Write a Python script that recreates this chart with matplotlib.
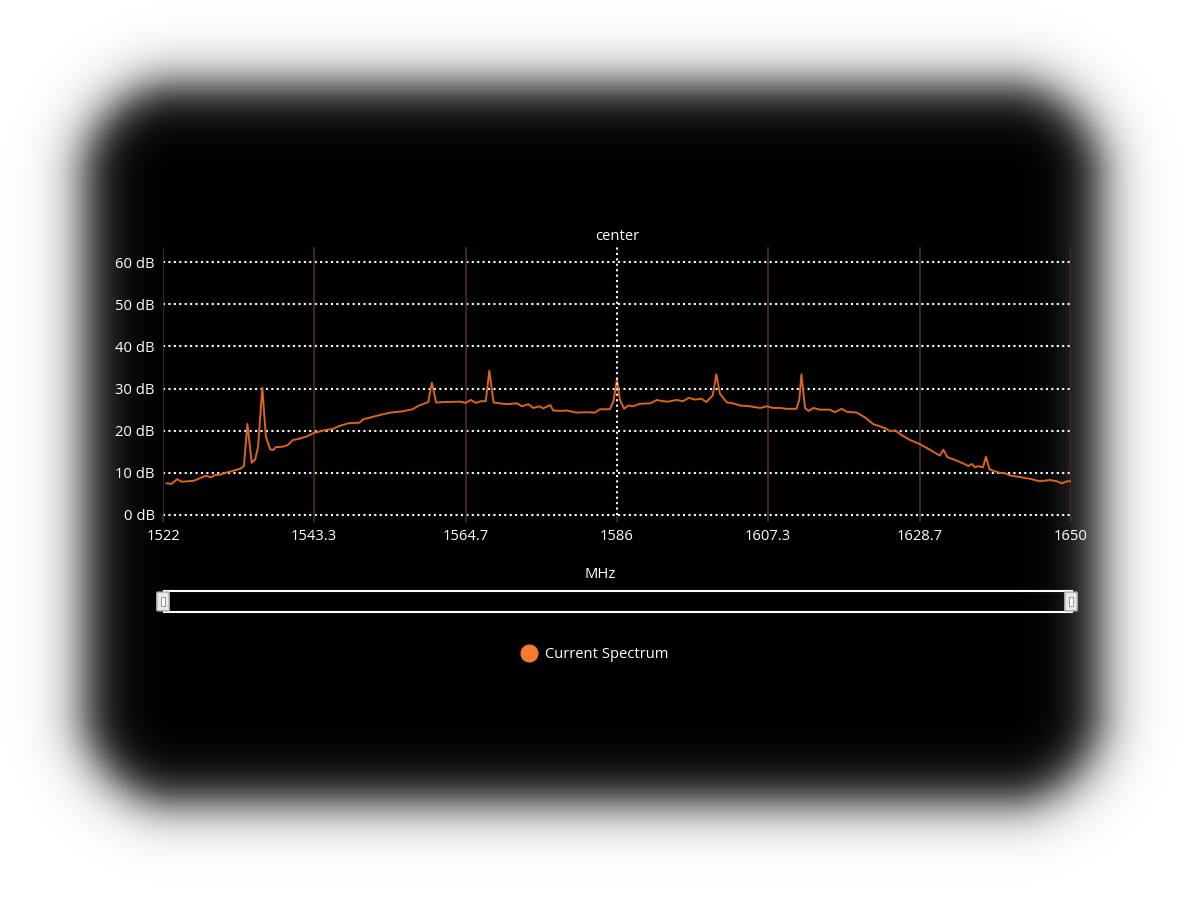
import numpy as np
import matplotlib
matplotlib.use("Agg")
import matplotlib.pyplot as plt
from matplotlib.lines import Line2D
from matplotlib.patches import Rectangle, FancyBboxPatch

# spectrum readings (MHz, dB)
freq_mhz = [1522.5, 1523.2, 1524.0, 1524.6, 1526.3, 1527.7, 1528.2, 1528.7, 1529.4, 1530.1,
            1531.0, 1531.9, 1532.9, 1533.4, 1533.9, 1534.5, 1535.0, 1535.4, 1536.0, 1536.5,
            1537.1, 1537.5, 1537.9, 1538.9, 1539.6, 1540.3, 1541.0, 1542.2, 1543.3, 1545.0,
            1545.9, 1546.8, 1548.2, 1549.7, 1550.2, 1551.6, 1552.5, 1554.0, 1555.8, 1557.2,
            1558.0, 1559.4, 1559.9, 1560.5, 1561.6, 1563.9, 1564.7, 1565.4, 1566.1, 1566.8,
            1567.5, 1568.0, 1568.6, 1569.5, 1570.4, 1571.9, 1572.6, 1573.5, 1574.2, 1575.1,
            1575.6, 1576.6, 1577.0, 1578.0, 1578.9, 1580.3, 1581.7, 1582.9, 1583.6, 1585.0,
            1585.5, 1586.0, 1586.4, 1587.0, 1587.6, 1588.3, 1589.2, 1590.7, 1591.6, 1592.5,
            1593.2, 1594.4, 1595.3, 1596.1, 1597.0, 1597.9, 1598.6, 1599.5, 1600.0, 1600.5,
            1601.5, 1602.4, 1603.3, 1604.7, 1606.2, 1607.1, 1608.0, 1609.0, 1609.9, 1611.3,
            1611.7, 1612.0, 1612.5, 1613.0, 1613.7, 1614.6, 1616.0, 1616.7, 1617.7, 1618.4,
            1619.8, 1621.0, 1622.1, 1623.8, 1624.5, 1625.2, 1626.1, 1627.3, 1628.7, 1630.1,
            1631.5, 1632.0, 1632.6, 1633.9, 1635.1, 1635.5, 1636.0, 1636.5, 1636.9, 1637.6,
            1638.0, 1638.5, 1639.0, 1640.0, 1640.7, 1641.4, 1642.8, 1644.2, 1645.6, 1647.0,
            1648.0, 1648.7, 1649.4, 1650.0]
level_db = [7.5, 7.4, 8.5, 7.9, 8.1, 9.1, 9.3, 8.9, 9.5, 9.6,
            10.1, 10.5, 11.0, 11.6, 21.6, 12.4, 13.2, 16.2, 30.2, 18.6,
            15.6, 15.4, 16.1, 16.2, 16.6, 17.8, 18.0, 18.6, 19.5, 20.2,
            20.4, 21.1, 21.8, 21.9, 22.7, 23.3, 23.7, 24.3, 24.6, 25.1,
            25.9, 26.8, 31.4, 26.7, 26.8, 26.9, 26.6, 27.3, 26.6, 27.0,
            27.0, 34.2, 26.7, 26.5, 26.3, 26.5, 25.8, 26.3, 25.4, 25.8,
            25.3, 26.1, 24.8, 24.7, 24.8, 24.3, 24.4, 24.3, 25.1, 25.1,
            27.0, 32.2, 27.4, 25.2, 26.0, 25.8, 26.4, 26.5, 27.3, 27.0,
            26.9, 27.3, 27.0, 27.8, 27.4, 27.6, 26.8, 28.4, 33.4, 28.8,
            26.7, 26.5, 26.0, 25.8, 25.4, 25.8, 25.4, 25.4, 25.2, 25.2,
            27.4, 33.4, 25.4, 24.7, 25.4, 25.0, 25.0, 24.4, 25.2, 24.5,
            24.3, 23.1, 21.6, 20.6, 19.9, 20.1, 19.0, 17.8, 16.8, 15.5,
            14.1, 15.5, 13.7, 12.9, 12.0, 11.6, 12.1, 11.3, 11.6, 11.3,
            13.8, 10.9, 10.5, 10.0, 9.9, 9.4, 9.0, 8.6, 8.0, 8.3,
            8.0, 7.5, 8.0, 8.0]

x_ticks = [1522, 1543.3, 1564.7, 1586, 1607.3, 1628.7, 1650]
x_tick_labels = ["1522", "1543.3", "1564.7", "1586", "1607.3", "1628.7", "1650"]
y_ticks = [0, 10, 20, 30, 40, 50, 60]
center_mhz = 1586

plt.rcParams['font.family'] = ['Open Sans', 'DejaVu Sans']
FS = 10.6

W, H = 1200, 900
fig = plt.figure(figsize=(12, 9), dpi=100)
fig.patch.set_facecolor("white")

# blurred black card behind the chart
bg = fig.add_axes([0, 0, 1, 1], zorder=-10)
yy, xx = np.mgrid[0:H, 0:W] + 0.5
x0, x1, y0, y1, r = 85, 1100, 85, 802, 95
qx = np.abs(xx - (x0 + x1) / 2) - ((x1 - x0) / 2 - r)
qy = np.abs(yy - (y0 + y1) / 2) - ((y1 - y0) / 2 - r)
dist = np.hypot(np.maximum(qx, 0), np.maximum(qy, 0)) + np.minimum(np.maximum(qx, qy), 0) - r
shade = 0.5 * (1 + np.tanh(dist / 30))
bg.imshow(shade, cmap="gray", vmin=0, vmax=1, extent=[0, W, H, 0], aspect="auto")
bg.set_axis_off()

# main plot
ax = fig.add_axes([163 / W, 1 - 515 / H, (1071 - 163) / W, (515 - 247) / H])
ax.set_facecolor("none")
ax.set_xlim(1522, 1650)
ax.set_ylim(0, 63.6)

for v in y_ticks:
    ax.axhline(v, color="white", lw=1.5, ls=(0, (1, 1.6)), zorder=1, clip_on=False)
for v in x_ticks:
    if v != center_mhz:
        ax.axvline(v, color="#4a3020", lw=1.2, zorder=1)
ax.axvline(center_mhz, color="white", lw=1.5, ls=(0, (1, 1.6)), zorder=3)

ax.plot(freq_mhz, level_db, color="#d9651f", lw=1.4, zorder=2)

ax.set_xticks(x_ticks)
ax.set_xticklabels(x_tick_labels)
ax.set_yticks(y_ticks)
ax.set_yticklabels([f"{v} dB" for v in y_ticks])
ax.tick_params(axis="x", colors="white", labelsize=FS, length=5, width=1.2, pad=5)
ax.tick_params(axis="x", color="#4a3020")
ax.tick_params(axis="y", colors="white", labelsize=FS, length=0, pad=6)
for s in ax.spines.values():
    s.set_visible(False)

ax.text(center_mhz, 1 + 11 / 268, "center", transform=ax.get_xaxis_transform(),
        ha="center", va="center", color="white", fontsize=FS)
fig.text(600 / W, 1 - 574 / H, "MHz", ha="center", va="center", color="white", fontsize=FS)

# range slider outline and handles
fig.patches.append(Rectangle((164 / W, 1 - 612 / H), (1072 - 164) / W, 21 / H,
                             transform=fig.transFigure, fill=False, ec="white", lw=1.5))
for hx in (158, 1066):
    fig.patches.append(FancyBboxPatch((hx / W, 1 - 610 / H), 10 / W, 17 / H,
                                      boxstyle="round,pad=0.001", transform=fig.transFigure,
                                      fc="#e8e8e8", ec="#aaaaaa", lw=1))
    fig.patches.append(Rectangle(((hx + 3) / W, 1 - 606 / H), 4 / W, 9 / H,
                                 transform=fig.transFigure, fc="white", ec="#888888", lw=0.6))

handle = Line2D([], [], marker="o", ls="none", color="#f47b30", markersize=12)
fig.legend([handle], ["Current Spectrum"], loc="center", bbox_to_anchor=(595 / W, 1 - 655 / H),
           frameon=False, labelcolor="white", fontsize=FS, handletextpad=0.55,
           handlelength=1.0)

fig.savefig("out.png", dpi=100, facecolor="white")
